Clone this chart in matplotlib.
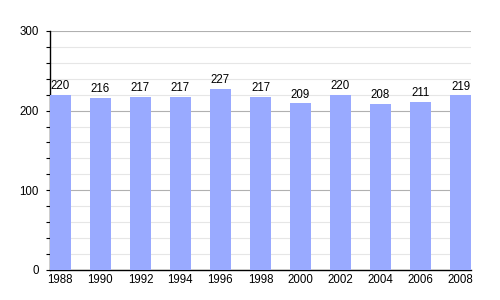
import matplotlib
matplotlib.use("Agg")
import matplotlib.pyplot as plt
from matplotlib.ticker import MultipleLocator

plt.rcParams["font.family"] = ["Liberation Sans", "DejaVu Sans"]

years = ["1988", "1990", "1992", "1994", "1996", "1998",
         "2000", "2002", "2004", "2006", "2008"]
population = [220, 216, 217, 217, 227, 217, 209, 220, 208, 211, 219]

fig = plt.figure(figsize=(5, 3), dpi=100)
ax = fig.add_axes([0.1, 0.1, 0.842, 0.797])

x = range(len(years))
width = 0.52
ax.bar(x, population, width=width, color="#99aaff", zorder=3)
for xi, v in zip(x, population):
    ax.annotate(str(v), (xi, v), xytext=(0, 2), textcoords="offset points",
                ha="center", va="bottom", fontsize=8.3, zorder=4)

ax.set_xlim(-width / 2, len(years) - 1 + width / 2)
ax.set_ylim(0, 300)
ax.set_xticks(list(x))
ax.set_xticklabels(years, fontsize=8.3)
ax.yaxis.set_major_locator(MultipleLocator(100))
ax.yaxis.set_minor_locator(MultipleLocator(20))
ax.tick_params(axis="y", labelsize=8.3, length=3, width=0.8, pad=5)
ax.tick_params(axis="y", which="minor", length=3, width=0.8)
ax.tick_params(axis="x", length=0, pad=3)

ax.grid(axis="y", which="major", color="#b0b0b0", linewidth=0.8, zorder=1)
ax.grid(axis="y", which="minor", color="#e6e6e6", linewidth=0.8, zorder=1)

for s in ["top", "right"]:
    ax.spines[s].set_visible(False)
ax.spines["left"].set_linewidth(1)
ax.spines["bottom"].set_linewidth(1)

plt.savefig("out.png")
